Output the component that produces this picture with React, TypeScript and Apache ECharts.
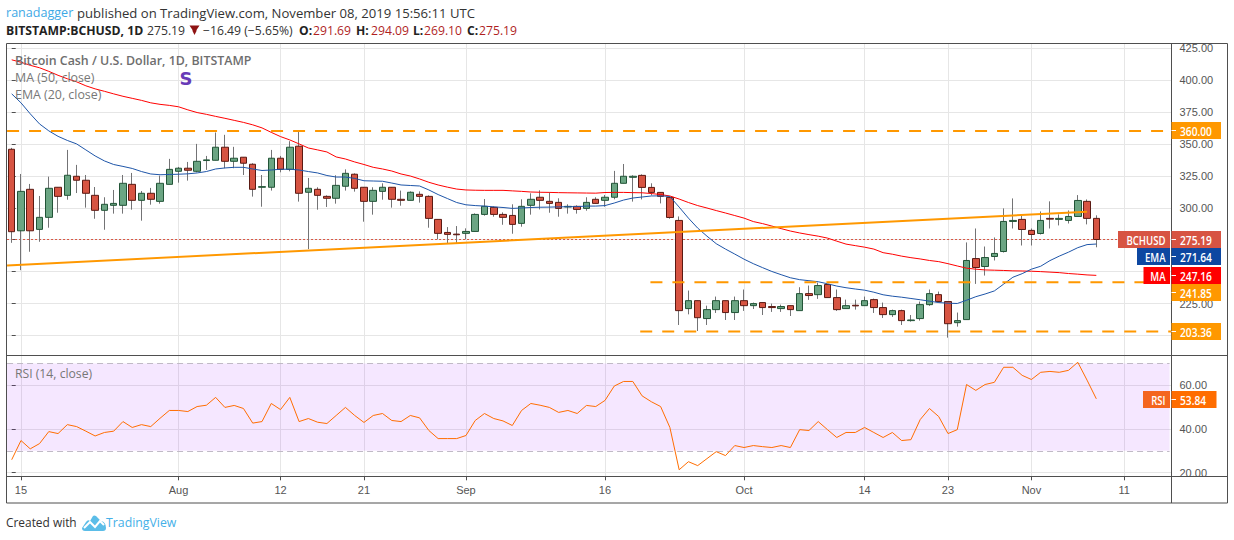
import React, { useEffect, useRef } from "react";
import * as echarts from "echarts";

const opens = [345.7,282.0,314.4,283.1,292.5,316.0,309.7,324.6,321.5,309.7,
298.0,301.9,301.9,318.3,305.8,311.3,305.0,318.3,328.5,330.9,
328.5,336.9,337.1,347.3,336.3,339.5,334.0,316.0,316.0,338.7,
330.0,348.1,312.1,314.4,308.9,307.4,316.8,326.2,316.0,305.0,
312.8,316.0,306.6,305.8,310.5,308.9,290.9,280.7,279.4,280.0,
281.5,294.8,300.3,294.8,294.0,287.8,301.9,308.2,305.0,304.2,
300.6,301.1,299.5,306.6,305.8,308.2,319.1,323.8,
325.3,315.9,312.0,308.1,290.1,221.2,227.4,213.4,220.4,227.4,
218.1,227.4,223.5,225.9,222.8,221.2,223.5,219.6,232.9,232.1,
240.0,229.8,221.2,223.8,223.5,228.2,222.0,216.5,219.6,211.8,
213.4,224.3,232.1,226.7,210.2,212.6,260.3,254.1,261.9,265.8,
289.3,290.9,282.3,279.9,291.7,290.9,290.1,293.2,305.0,291.69];
const closes = [281.3,312.8,282.0,292.5,315.2,308.9,325.4,321.5,311.3,298.0,
302.7,303.4,319.1,305.8,311.3,306.6,319.1,330.0,330.9,329.3,
336.3,337.4,347.3,336.3,338.7,334.8,314.4,316.5,338.7,330.0,
347.3,311.3,315.2,309.7,307.4,317.5,326.9,315.2,305.0,313.6,
316.0,306.6,305.8,312.1,308.9,291.7,280.0,279.2,278.9,281.5,
294.8,301.1,294.8,292.5,287.0,301.1,306.6,305.8,303.4,299.5,
301.1,298.7,304.2,303.4,308.2,319.1,324.6,324.6,
315.9,312.0,308.9,292.4,219.6,227.4,214.1,220.4,227.4,218.1,
227.4,223.5,225.1,222.0,222.0,222.8,220.4,232.9,231.4,239.2,
229.8,220.4,223.5,223.3,227.4,222.0,216.5,219.6,211.8,212.3,
224.3,232.9,226.7,209.4,211.8,258.8,253.3,261.1,264.3,289.3,
290.1,283.0,279.1,290.1,291.1,291.7,293.2,305.7,291.7,275.19];
const highs = [346.8,326.4,318.6,309.2,324.3,316.0,345.2,333.5,325.6,316.2,
308.2,313.9,325.6,327.2,313.1,315.5,325.1,338.2,331.9,335.8,
349.9,340.5,358.8,357.0,347.6,339.5,334.8,325.6,345.2,340.5,
352.0,360.1,323.3,316.0,309.7,325.4,330.0,326.9,316.0,316.0,
319.1,316.0,313.4,312.8,312.8,309.7,290.9,284.9,285.7,283.9,
295.6,306.8,301.1,296.4,302.7,306.6,311.3,313.6,312.1,307.4,
302.7,301.9,308.2,308.2,310.0,328.8,334.2,325.4,
326.1,319.1,312.0,308.1,293.2,235.3,227.4,223.5,230.6,227.4,
230.6,236.1,225.9,225.9,225.1,224.3,223.5,237.9,239.2,241.5,
240.0,236.1,228.2,228.2,230.6,229.0,225.9,220.4,220.4,216.2,
226.7,236.1,234.5,226.7,218.1,272.9,283.8,269.7,276.8,299.5,
307.3,294.0,283.8,297.1,305.0,294.8,297.9,309.9,306.5,294.09];
const lows = [272.6,251.2,265.6,273.4,284.4,296.1,306.3,311.5,300.1,291.4,
282.8,295.4,295.4,298.5,289.9,302.4,303.2,318.3,319.6,321.2,
327.7,329.6,337.1,330.9,330.9,325.6,308.7,300.8,313.4,327.7,
328.5,304.8,267.7,298.5,300.6,303.2,313.4,312.6,289.1,294.6,
306.3,300.1,301.6,305.8,304.0,284.4,275.3,271.9,271.9,275.3,
281.5,293.8,293.0,286.7,279.7,285.2,294.6,298.7,296.1,293.0,
295.4,295.4,297.7,303.4,300.8,306.6,319.1,304.8,
306.5,309.7,303.4,291.4,208.4,216.7,203.7,208.4,217.8,212.3,
212.3,219.4,220.9,216.2,218.6,218.6,215.4,219.6,228.0,228.8,
229.8,219.4,221.2,220.4,223.5,217.8,213.9,214.7,208.4,211.0,
211.8,223.3,225.9,198.5,207.1,212.6,240.5,247.0,258.8,265.0,
283.8,270.5,270.5,279.1,283.8,286.2,287.7,293.2,287.0,269.10];
const ma50 = [415.6,413.7,411.3,409.4,406.6,403.5,400.8,398.4,395.3,392.9,
391.0,389.0,387.1,385.5,383.9,382.0,380.8,380.0,378.9,376.5,
374.4,373.0,371.4,369.9,368.3,366.7,364.8,362.4,358.9,355.6,
353.0,349.9,346.7,345.2,343.6,339.7,338.1,335.8,333.8,331.6,
330.3,328.7,326.4,324.8,322.5,319.9,317.8,316.1,314.6,313.9,
313.7,313.6,313.6,313.6,313.2,312.8,312.3,312.1,312.0,311.8,
311.7,311.6,311.5,311.4,311.9,312.0,312.0,311.8,311.7,311.1,
310.3,309.2,306.8,304.1,301.7,299.8,297.8,295.9,293.9,291.9,
289.2,287.6,285.7,283.7,281.8,280.3,279.0,277.8,276.3,273.9,
271.6,270.4,269.2,267.7,264.9,263.7,262.2,261.0,260.0,258.8,
257.9,256.3,254.5,252.8,252.0,251.4,251.2,251.0,250.7,250.6,
250.4,250.1,249.7,249.3,248.6,248.1,247.5,247.16];
const ema20 = [389.0,382.0,373.4,365.5,360.1,355.8,352.6,349.9,345.2,340.5,
336.6,333.8,332.3,330.7,328.3,326.4,325.8,326.0,326.2,326.5,
327.2,328.3,330.3,331.1,331.6,331.6,330.3,329.1,329.5,330.1,
330.1,329.5,328.3,327.2,325.2,324.0,324.0,322.9,321.1,320.9,
320.7,319.3,317.8,317.4,317.0,313.9,310.3,307.2,304.1,302.3,
301.7,301.3,300.7,300.2,299.5,299.8,300.2,300.4,300.5,300.7,
300.8,300.9,301.3,301.3,301.7,303.7,306.0,307.6,308.4,309.2,
309.3,308.8,300.5,291.9,284.1,277.8,271.9,267.7,263.8,259.8,
256.3,253.2,250.2,247.7,245.3,243.8,243.0,242.2,240.6,238.8,
237.5,236.5,235.6,234.0,232.0,230.9,230.1,229.1,228.1,227.0,
225.9,225.4,225.2,227.7,230.5,232.6,235.0,240.3,245.7,248.5,
252.0,254.3,258.7,262.2,265.3,268.8,271.2,271.64];
const rsi14 = [25.9,34.7,30.9,33.3,38.8,37.9,42.0,41.1,39.0,36.8,
38.4,39.0,43.4,40.7,42.0,41.1,44.9,48.5,48.5,48.0,
50.3,50.9,54.5,49.9,50.8,49.4,42.7,43.4,51.7,48.9,
54.5,43.4,44.8,43.1,42.5,46.2,49.9,46.2,43.0,46.2,
47.1,43.9,43.4,46.2,45.1,39.3,35.6,35.6,35.6,37.0,
43.9,47.1,44.8,43.7,41.6,48.5,51.7,50.9,49.9,47.6,
48.5,47.1,50.8,50.3,53.1,59.7,61.8,61.8,55.2,52.5,
50.3,40.7,21.3,25.0,23.2,26.4,29.6,27.8,32.4,31.5,
32.4,31.9,31.5,32.4,31.5,39.7,39.3,43.4,39.7,36.1,
38.4,38.4,40.7,38.4,36.1,38.4,34.7,35.1,44.3,49.4,
45.7,37.9,39.7,60.4,57.7,60.4,61.4,68.3,68.3,64.6,
62.7,66.0,66.4,66.0,66.9,70.6,62.4,53.84];

const xTickIdx = [1, 18, 29, 38, 49, 64, 79, 92, 101, 110, 120];
const xTickLabels = ["15", "Aug", "12", "21", "Sep", "16", "Oct", "14", "23", "Nov", "11"];
const priceTicks = [200, 225, 250, 275, 300, 325, 350, 375, 400, 425];
const priceLabels = [200, 225, 300, 325, 350, 375, 400, 425];
const rsiTicks = [20, 40, 60];

const trendLine = [[-0.5, 254.9], [116, 296.9]];
const level360 = [[-0.5, 360], [125.2, 360]];
const level241 = [[68.9, 241.85], [125.2, 241.85]];
const level203 = [[67.8, 203.36], [125.2, 203.36]];
const lastPrice = 275.19;

const FONT = '"Open Sans", "Liberation Sans", sans-serif';
const AXIS_FONT = '"Liberation Sans", sans-serif';
const GRID_L = 7.07;
const GRID_W = 1164.43;
const X_MIN = -0.5;
const X_MAX = 125.11;

const indexed = (a: number[]) => a.map((v, i) => [i, v]);

function txt(x: number, y: number, text: string, fill: string, fontSize = 12, fontWeight: any = "normal", align: any = "left", font = FONT, scaleX = 1): any {
  return {
    type: "text", x, y, scaleX, silent: true, z: 20,
    style: { text, fill, fontSize, fontWeight, fontFamily: font, textAlign: align, textVerticalAlign: "middle" },
  };
}
function box(x: number, y: number, w: number, h: number, fill: string): any {
  return { type: "rect", z: 15, silent: true, shape: { x, y, width: w, height: h }, style: { fill } };
}
function hline(x1: number, y1: number, x2: number, y2: number, stroke: string, lineWidth = 1, z = 16): any {
  return { type: "line", z, silent: true, shape: { x1, y1, x2, y2 }, style: { stroke, lineWidth } };
}
function tag(y: number, right: string, rightFill: string, rightW: number, left?: string, leftX?: number, leftFill?: string): any[] {
  const out: any[] = [
    box(1171.5, y, rightW, 17, rightFill),
    hline(1171.5, y + 8.5, 1176, y + 8.5, "#ffffff"),
    txt(1180, y + 9, right, "#ffffff", 12, 600, "left", FONT, 0.85),
  ];
  if (left && leftX !== undefined) {
    out.push(box(leftX, y, 1170 - leftX, 17, leftFill as string));
    out.push(txt(1165.5, y + 9, left, "#ffffff", 12, 600, "right", FONT, 0.8));
  }
  return out;
}

const cloud = "M0 13 L4 7 Q6 4 8 6 L11 1 Q12 0 14 1 L19 6 Q24 7 24 13 Q24 16 21 16 L3 16 Q0 16 0 13Z";
echarts.graphic.registerShape("tvlogo", echarts.graphic.extendPath(cloud, {}));

function buildOption(): any {
  const wicks = opens.map((o, i) => [i, o, closes[i], lows[i], highs[i]]);
  const bodies = opens.map((o, i) => [i, o, closes[i], Math.min(o, closes[i]), Math.max(o, closes[i])]);

  const graphic: any[] = [
    // frame
    { type: "rect", z: 14, silent: true, shape: { x: 6.5, y: 43.5, width: 1221, height: 459.5 }, style: { fill: "none", stroke: "#4f4f4f", lineWidth: 1 } },
    hline(6.5, 355.5, 1227.5, 355.5, "#4f4f4f", 1, 14),
    hline(6.5, 476.5, 1227.5, 476.5, "#4f4f4f", 1, 14),
    hline(1171.5, 43.5, 1171.5, 503, "#4f4f4f", 1, 14),
    // header
    txt(6, 13, "ranadagger", "#3ea9e6", 12.2, "normal", "left", FONT, 1.03),
    txt(77, 13, "published on TradingView.com, November 08, 2019 15:56:11 UTC", "#333333", 13, "normal", "left", FONT, 1.009),
    txt(6, 30, "BITSTAMP:BCHUSD, 1D", "#222222", 13, 700, "left", FONT, 0.94),
    txt(147, 30, "275.19", "#333333", 12.2),
    { type: "polygon", z: 20, silent: true, shape: { points: [[189.5, 25.5], [199.5, 25.5], [196.5, 30], [196.5, 31], [194.5, 35], [192.5, 31], [192.5, 30]] }, style: { fill: "#8e1313" } },
    txt(203, 30, "\u221216.49 (\u22125.65%)", "#333333", 12.2),
    txt(299, 30, "O:", "#222222", 12.1, 700),
    txt(313, 30, "291.69", "#b01f1f", 12.2),
    txt(356, 30, "H:", "#222222", 12.1, 700),
    txt(371, 30, "294.09", "#b01f1f", 12.2),
    txt(413, 30, "L:", "#222222", 12.1, 700),
    txt(424, 30, "269.10", "#b01f1f", 12.2),
    txt(467, 30, "C:", "#222222", 12.1, 700),
    txt(479, 30, "275.19", "#b01f1f", 12.2),
    // pane legends
    txt(15, 60, "Bitcoin Cash / U.S. Dollar, 1D, BITSTAMP", "#6e6e6e", 12.4, 600),
    txt(15, 77, "MA (50, close)", "#777777", 12.4),
    txt(15, 94, "EMA (20, close)", "#777777", 12.4),
    txt(15, 373, "RSI (14, close)", "#777777", 12.2),
    txt(186, 78.5, "S", "#673ab7", 18, 700, "center", '"DejaVu Sans", sans-serif'),
    // footer
    txt(6, 522, "Created with", "#333333", 11.9),
    { type: "tvlogo", z: 20, silent: true, x: 82, y: 515, scaleX: 1, scaleY: 1, style: { fill: "#5bbde8" } },
    { type: "polyline", z: 21, silent: true, shape: { points: [[84, 528], [90, 522], [95, 527], [100, 521], [104, 525]] }, style: { stroke: "#ffffff", lineWidth: 2, fill: "none" } },
    txt(106, 522, "TradingView", "#45b0e8", 12.3),
    // price tags
    ...tag(122, "360.00", "#ff9800", 49.5),
    ...tag(231, "275.19", "#d75442", 49.5, "BCHUSD", 1118, "#d75442"),
    ...tag(248, "271.64", "#0d47a1", 49.5, "EMA", 1137, "#0d47a1"),
    ...tag(267, "247.16", "#ff0000", 49.5, "MA", 1143.5, "#ff0000"),
    ...tag(284, "241.85", "#ff9800", 49.5),
    ...tag(323, "203.36", "#ff9800", 49.5),
    ...tag(391, "53.84", "#ff6d00", 45, "RSI", 1143, "#f4651f"),
  ];

  const axisCommon = { axisLine: { show: false }, axisTick: { show: false }, axisLabel: { show: false } };

  return {
    animation: false,
    backgroundColor: "#ffffff",
    grid: [
      { left: GRID_L, top: 43.7, width: GRID_W, height: 311.6 },
      { left: GRID_L, top: 355.3, width: GRID_W, height: 121 },
    ],
    xAxis: [
      {
        type: "value", gridIndex: 0, min: X_MIN, max: X_MAX, ...axisCommon,
        axisTick: { show: false, customValues: xTickIdx },
        axisLabel: { show: false, customValues: xTickIdx },
        splitLine: { show: true, lineStyle: { color: "#e6e6e6", width: 1 } },
      },
      {
        type: "value", gridIndex: 1, min: X_MIN, max: X_MAX,
        axisLine: { show: false },
        axisTick: { show: true, length: 4, customValues: xTickIdx, lineStyle: { color: "#4f4f4f" } },
        axisLabel: {
          show: true, customValues: xTickIdx, color: "#555555", fontFamily: AXIS_FONT, fontSize: 11, margin: 8,
          formatter: (v: number) => xTickLabels[xTickIdx.indexOf(v)] ?? "",
        },
        splitLine: { show: true, lineStyle: { color: "#e6e6e6", width: 1 } },
      },
    ],
    yAxis: [
      {
        type: "value", gridIndex: 0, position: "right", min: 184.7, max: 428.2,
        axisLine: { show: false },
        axisTick: { show: true, length: 4, customValues: priceTicks, lineStyle: { color: "#4f4f4f" } },
        axisLabel: { show: true, customValues: priceLabels, color: "#555555", fontFamily: AXIS_FONT, fontSize: 11, margin: 8, formatter: (v: number) => v.toFixed(2) },
        splitLine: { show: true, lineStyle: { color: "#e6e6e6", width: 1 } },
      },
      {
        type: "value", gridIndex: 1, position: "right", min: 18.3, max: 73.8,
        axisLine: { show: false },
        axisTick: { show: true, length: 4, customValues: rsiTicks, lineStyle: { color: "#4f4f4f" } },
        axisLabel: { show: true, customValues: rsiTicks, color: "#555555", fontFamily: AXIS_FONT, fontSize: 11, margin: 8, formatter: (v: number) => v.toFixed(2) },
        splitLine: { show: true, lineStyle: { color: "#e6e6e6", width: 1 } },
      },
    ],
    graphic,
    series: [
      {
        type: "line", xAxisIndex: 0, yAxisIndex: 0, data: [[X_MIN, lastPrice], [X_MAX, lastPrice]], symbol: "none", z: 2,
        lineStyle: { color: "#d75442", width: 1, type: [2, 2] },
      },
      {
        type: "candlestick", xAxisIndex: 0, yAxisIndex: 0, data: wicks, encode: { x: 0, y: [1, 2, 3, 4] }, barWidth: 1, z: 3,
        itemStyle: { color: "#737375", color0: "#737375", borderColor: "#737375", borderColor0: "#737375", borderColorDoji: "#737375", borderWidth: 1 },
      },
      {
        type: "candlestick", xAxisIndex: 0, yAxisIndex: 0, data: bodies, encode: { x: 0, y: [1, 2, 3, 4] }, barWidth: 7, z: 4,
        itemStyle: { color: "#6ba583", color0: "#d75442", borderColor: "#225437", borderColor0: "#5b1a13", borderColorDoji: "#225437", borderWidth: 1 },
      },
      { type: "line", xAxisIndex: 0, yAxisIndex: 0, data: indexed(ma50), symbol: "none", z: 5, lineStyle: { color: "#ff0000", width: 1 } },
      { type: "line", xAxisIndex: 0, yAxisIndex: 0, data: indexed(ema20), symbol: "none", z: 5, lineStyle: { color: "#1e55a8", width: 1 } },
      { type: "line", xAxisIndex: 0, yAxisIndex: 0, data: trendLine, symbol: "none", z: 6, lineStyle: { color: "#ff9800", width: 2 } },
      { type: "line", xAxisIndex: 0, yAxisIndex: 0, data: level360, symbol: "none", z: 6, lineStyle: { color: "#ff9800", width: 2, type: [12, 10] } },
      { type: "line", xAxisIndex: 0, yAxisIndex: 0, data: level241, symbol: "none", z: 6, lineStyle: { color: "#ff9800", width: 2, type: [12, 10] } },
      { type: "line", xAxisIndex: 0, yAxisIndex: 0, data: level203, symbol: "none", z: 6, lineStyle: { color: "#ff9800", width: 2, type: [12, 10] } },
      {
        type: "line", xAxisIndex: 1, yAxisIndex: 1, data: indexed(rsi14), symbol: "none", z: 6,
        lineStyle: { color: "#ff6d00", width: 1 },
        markArea: {
          silent: true,
          itemStyle: { color: "rgba(153,21,255,0.1)" },
          data: [[{ coord: [X_MIN, 70] }, { coord: [124.9, 30] }]],
        },
        markLine: {
          silent: true, symbol: "none", label: { show: false },
          lineStyle: { color: "#c0bac6", width: 1, type: [6, 4] },
          data: [[{ coord: [X_MIN, 70] }, { coord: [124.9, 70] }], [{ coord: [X_MIN, 30] }, { coord: [124.9, 30] }]],
        },
      },
    ],
  };
}

export default function App() {
  const ref = useRef<HTMLDivElement>(null);
  useEffect(() => {
    document.body.style.margin = "0";
    document.body.style.background = "#ffffff";
    const chart = echarts.init(ref.current as HTMLDivElement, undefined, { renderer: "svg" });
    chart.setOption(buildOption());
    return () => chart.dispose();
  }, []);
  return <div ref={ref} style={{ position: "absolute", left: 0, top: 0, width: 1234, height: 540 }} />;
}
